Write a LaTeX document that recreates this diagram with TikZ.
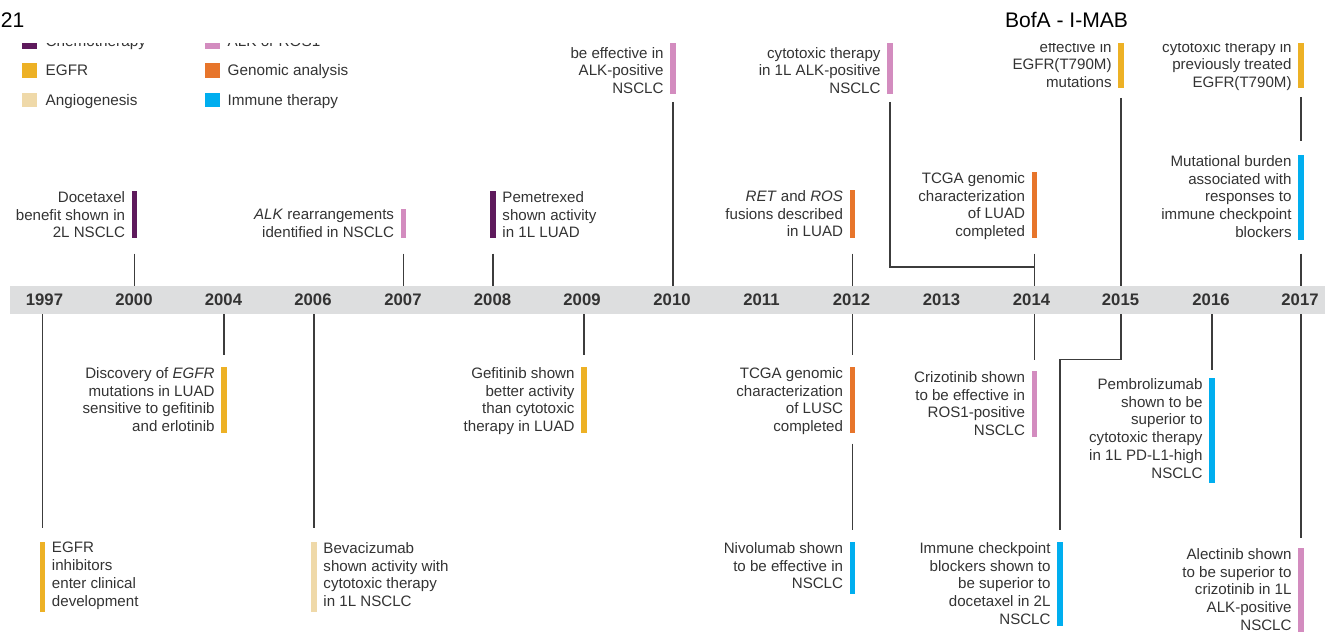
\documentclass[tikz,border=0pt]{standalone}
\usepackage{fontspec}
\setmainfont{Liberation Sans}
\usepackage{xcolor}
\usepackage{tikz}
\usetikzlibrary{positioning}

\definecolor{chemo}{HTML}{5E1A5C}
\definecolor{alkros}{HTML}{D38CBF}
\definecolor{egfr}{HTML}{EDB125}
\definecolor{angio}{HTML}{EFD9A9}
\definecolor{genomic}{HTML}{E7752B}
\definecolor{immune}{HTML}{00AEEF}
\definecolor{stemgray}{HTML}{3C3C3C}
\definecolor{bandgray}{HTML}{DDDEDF}
\definecolor{inkgray}{HTML}{333333}

\begin{document}
\begin{tikzpicture}[x=0.02cm, y=-0.02cm,
    evbar/.style={rectangle, inner sep=0pt, minimum width=0.11cm, minimum height={#1*0.02cm}},
    evtext/.style={inner sep=0pt, text=inkgray, font=\fontsize{8.6}{10.1}\selectfont},
    yearlbl/.style={inner sep=0pt, text=inkgray, font=\bfseries\fontsize{9.5}{11}\selectfont},
    legsq/.style={rectangle, inner sep=0pt, minimum size=0.3cm},
    legtxt/.style={inner sep=0pt, text=inkgray, text height=6.2pt, text depth=0pt, font=\fontsize{8.7}{10}\selectfont},
    stem/.style={draw=stemgray, line width=0.85pt}]
  \useasboundingbox (0,0) rectangle (1325,635);

  \begin{scope}
    \clip (0,44) rectangle (1325,640);

    % legend
    \node[legsq, fill=chemo] (lgChemo) at (29.5,41.5) {};
    \node[legtxt, right=0.16cm of lgChemo] (lgChemoTxt) {Chemotherapy};
    \node[legsq, fill=egfr] (lgEgfr) at (29.5,70.5) {};
    \node[legtxt, right=0.16cm of lgEgfr] (lgEgfrTxt) {EGFR};
    \node[legsq, fill=angio] (lgAngio) at (29.5,100) {};
    \node[legtxt, right=0.16cm of lgAngio] (lgAngioTxt) {Angiogenesis};
    \node[legsq, fill=alkros] (lgAlk) at (212.5,41.5) {};
    \node[legtxt, right=0.14cm of lgAlk] (lgAlkTxt) {ALK or ROS1};
    \node[legsq, fill=genomic] (lgGenomic) at (212.5,70.5) {};
    \node[legtxt, right=0.14cm of lgGenomic] (lgGenomicTxt) {Genomic analysis};
    \node[legsq, fill=immune] (lgImmune) at (212.5,100) {};
    \node[legtxt, right=0.14cm of lgImmune] (lgImmuneTxt) {Immune therapy};

    % timeline band and years
    \node[fill=bandgray, inner sep=0pt, minimum width=26.4cm, minimum height=0.56cm, anchor=west] (axis) at (10,300) {};
    \node[yearlbl] (y1997) at (44.5,300) {1997};
    \node[yearlbl] (y2000) at (134,300) {2000};
    \node[yearlbl] (y2004) at (223.5,300) {2004};
    \node[yearlbl] (y2006) at (313,300) {2006};
    \node[yearlbl] (y2007) at (403,300) {2007};
    \node[yearlbl] (y2008) at (492.5,300) {2008};
    \node[yearlbl] (y2009) at (582,300) {2009};
    \node[yearlbl] (y2010) at (672,300) {2010};
    \node[yearlbl] (y2011) at (761.5,300) {2011};
    \node[yearlbl] (y2012) at (851.5,300) {2012};
    \node[yearlbl] (y2013) at (941.5,300) {2013};
    \node[yearlbl] (y2014) at (1031.5,300) {2014};
    \node[yearlbl] (y2015) at (1120.5,300) {2015};
    \node[yearlbl] (y2016) at (1211,300) {2016};
    \node[yearlbl] (y2017) at (1300,300) {2017};

    % events above the band
    \node[evbar=47, fill=chemo, anchor=north] (docBar) at (134.5,191) {};
    \node[evtext, align=right, below left=0pt and 0.12cm of docBar.north west] (docTxt) {Docetaxel\\benefit shown in\\2L NSCLC};
    \node[evbar=29, fill=alkros, anchor=north] (alkBar) at (403.5,209) {};
    \node[evtext, align=right, below left=0pt and 0.12cm of alkBar.north west] (alkTxt) {\textit{ALK} rearrangements\\identified in NSCLC};
    \node[evbar=47, fill=chemo, anchor=north] (pemBar) at (493,191) {};
    \node[evtext, align=left, below right=0pt and 0.12cm of pemBar.north east] (pemTxt) {Pemetrexed\\shown activity\\in 1L LUAD};
    \node[evbar=60, fill=alkros, anchor=south] (crizBar) at (673,94) {};
    \node[evtext, align=right, text depth=0pt, above left=0pt and 0.12cm of crizBar.south west] (crizTxt) {be effective in\\ALK-positive\\NSCLC};
    \node[evbar=48, fill=genomic, anchor=north] (fusBar) at (852.5,190) {};
    \node[evtext, align=right, below left=0pt and 0.12cm of fusBar.north west] (fusTxt) {\textit{RET} and \textit{ROS}\\fusions described\\in LUAD};
    \node[evbar=66, fill=genomic, anchor=north] (luadBar) at (1034.5,172) {};
    \node[evtext, align=right, below left=0pt and 0.12cm of luadBar.north west] (luadTxt) {TCGA genomic\\characterization\\of LUAD\\completed};
    \node[evbar=60, fill=alkros, anchor=south] (crizFirstBar) at (890,94) {};
    \node[evtext, align=right, text depth=0pt, above left=0pt and 0.12cm of crizFirstBar.south west] (crizFirstTxt) {cytotoxic therapy\\in 1L ALK-positive\\NSCLC};
    \node[evbar=60, fill=egfr, anchor=south] (osiBar) at (1121,88) {};
    \node[evtext, align=right, text depth=0pt, above left=0pt and 0.12cm of osiBar.south west] (osiTxt) {effective in\\EGFR(T790M)\\mutations};
    \node[evbar=60, fill=egfr, anchor=south] (osiSecBar) at (1301,88) {};
    \node[evtext, align=right, text depth=0pt, above left=0pt and 0.12cm of osiSecBar.south west] (osiSecTxt) {cytotoxic therapy in\\previously treated\\EGFR(T790M)};
    \node[evbar=85, fill=immune, anchor=north] (tmbBar) at (1301,155) {};
    \node[evtext, align=right, below left=0pt and 0.12cm of tmbBar.north west] (tmbTxt) {Mutational burden\\associated with\\responses to\\immune checkpoint\\blockers};

    % events below the band
    \node[evbar=70, fill=egfr, anchor=north] (tkiBar) at (42.5,542) {};
    \node[evtext, align=left, below right=0pt and 0.12cm of tkiBar.north east] (tkiTxt) {EGFR\\inhibitors\\enter clinical\\development};
    \node[evbar=66, fill=egfr, anchor=north] (egfrBar) at (224,367) {};
    \node[evtext, align=right, below left=0pt and 0.12cm of egfrBar.north west] (egfrTxt) {Discovery of \textit{EGFR}\\mutations in LUAD\\sensitive to gefitinib\\and erlotinib};
    \node[evbar=70, fill=angio, anchor=north] (bevBar) at (314,542) {};
    \node[evtext, align=left, below right=0pt and 0.12cm of bevBar.north east] (bevTxt) {Bevacizumab\\shown activity with\\cytotoxic therapy\\in 1L NSCLC};
    \node[evbar=66, fill=egfr, anchor=north] (gefBar) at (584,367) {};
    \node[evtext, align=right, below left=0pt and 0.12cm of gefBar.north west] (gefTxt) {Gefitinib shown\\better activity\\than cytotoxic\\therapy in LUAD};
    \node[evbar=66, fill=genomic, anchor=north] (luscBar) at (852.5,367) {};
    \node[evtext, align=right, below left=0pt and 0.12cm of luscBar.north west] (luscTxt) {TCGA genomic\\characterization\\of LUSC\\completed};
    \node[evbar=52, fill=immune, anchor=north] (nivoBar) at (852.5,542) {};
    \node[evtext, align=right, below left=0pt and 0.12cm of nivoBar.north west] (nivoTxt) {Nivolumab shown\\to be effective in\\NSCLC};
    \node[evbar=66, fill=alkros, anchor=north] (rosBar) at (1034.5,371) {};
    \node[evtext, align=right, below left=0pt and 0.12cm of rosBar.north west] (rosTxt) {Crizotinib shown\\to be effective in\\ROS1-positive\\NSCLC};
    \node[evbar=84, fill=immune, anchor=north] (icbBar) at (1060,542) {};
    \node[evtext, align=right, below left=0pt and 0.12cm of icbBar.north west] (icbTxt) {Immune checkpoint\\blockers shown to\\be superior to\\docetaxel in 2L\\NSCLC};
    \node[evbar=105, fill=immune, anchor=north] (pembroBar) at (1212,378) {};
    \node[evtext, align=right, below left=0pt and 0.12cm of pembroBar.north west] (pembroTxt) {Pembrolizumab\\shown to be\\superior to\\cytotoxic therapy\\in 1L PD-L1-high\\NSCLC};
    \node[evbar=84, fill=alkros, anchor=north] (alecBar) at (1301,548) {};
    \node[evtext, align=right, below left=0pt and 0.12cm of alecBar.north west] (alecTxt) {Alectinib shown\\to be superior to\\crizotinib in 1L\\ALK-positive\\NSCLC};

    % stems to the band
    \coordinate (j2014) at (1034.5,267);
    \draw[stem] (docBar.south) ++(0,15) -- (docBar.south |- axis.north);
    \draw[stem] (alkBar.south) ++(0,15) -- (alkBar.south |- axis.north);
    \draw[stem] (pemBar.south) ++(0,15) -- (pemBar.south |- axis.north);
    \draw[stem] (crizBar.south) ++(0,8) -- (crizBar.south |- axis.north);
    \draw[stem] (fusBar.south) ++(0,15) -- (fusBar.south |- axis.north);
    \draw[stem] (luadBar.south) ++(0,15) -- (luadBar.south |- axis.north);
    \draw[stem] (crizFirstBar.south) ++(0,8) |- (j2014);
    \draw[stem] (osiBar.south) ++(0,10) -- (osiBar.south |- axis.north);
    \draw[stem] (osiSecBar.south) ++(0,9) -- ([yshift=0.28cm]tmbBar.north);
    \draw[stem] (tmbBar.south) ++(0,13) -- (tmbBar.south |- axis.north);

    \draw[stem] (axis.south -| tkiBar) -- ([yshift=0.28cm]tkiBar.north);
    \draw[stem] (axis.south -| egfrBar) -- ([yshift=0.24cm]egfrBar.north);
    \draw[stem] (axis.south -| bevBar) -- ([yshift=0.28cm]bevBar.north);
    \draw[stem] (axis.south -| gefBar) -- ([yshift=0.24cm]gefBar.north);
    \draw[stem] (axis.south -| luscBar) -- ([yshift=0.24cm]luscBar.north);
    \draw[stem] (luscBar.south) ++(0,10) -- ([yshift=0.24cm]nivoBar.north);
    \draw[stem] (axis.south -| rosBar) -- ([yshift=0.22cm]rosBar.north);
    \draw[stem] (axis.south -| osiBar) -- ++(0,45) -| ([yshift=0.24cm]icbBar.north);
    \draw[stem] (axis.south -| pembroBar) -- ([yshift=0.16cm]pembroBar.north);
    \draw[stem] (axis.south -| alecBar) -- ([yshift=0.2cm]alecBar.north);
  \end{scope}

  % header
  \node[inner sep=0pt, anchor=west, font=\fontsize{12}{14}\selectfont] (pageNo) at (0.5,20) {21};
  \node[inner sep=0pt, font=\fontsize{12}{14}\selectfont] (bankTag) at (1066.5,20) {BofA - I-MAB};
\end{tikzpicture}
\end{document}
